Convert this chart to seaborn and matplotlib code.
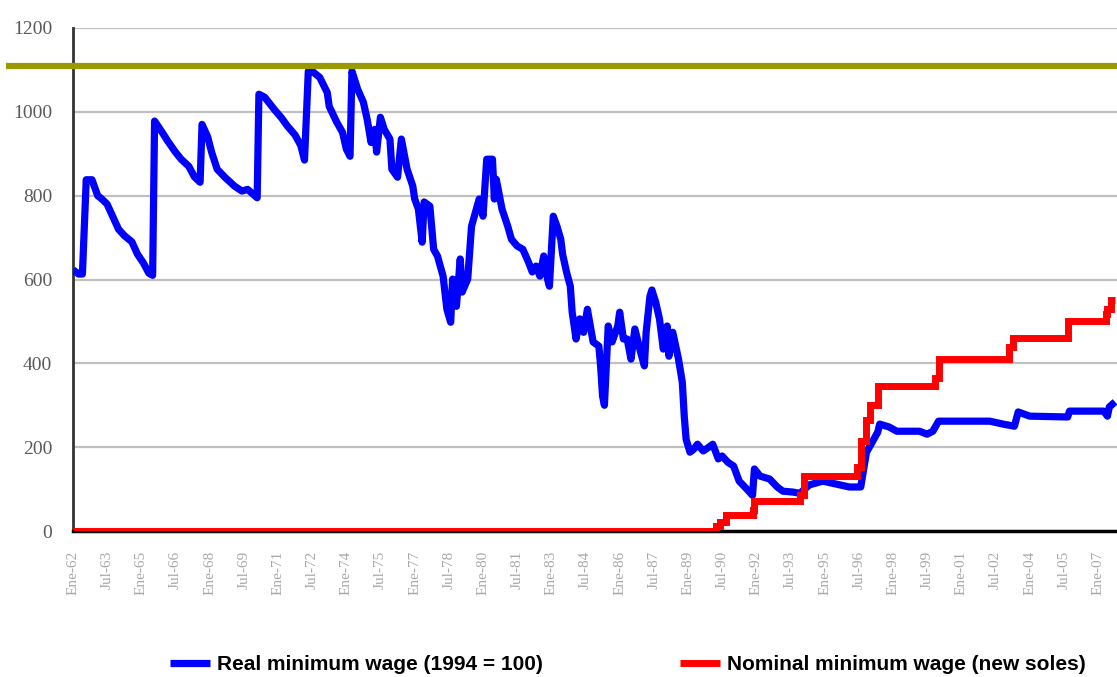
import numpy as np
import pandas as pd
import matplotlib
matplotlib.use("Agg")
import matplotlib.pyplot as plt
import seaborn as sns

# ---------------- data ----------------
real_dates = [
    "1962-01", "1962-04", "1962-06", "1962-08", "1962-11", "1963-02", "1963-04", "1963-07", "1963-10",
    "1964-01", "1964-04", "1964-08", "1964-11", "1965-02", "1965-05", "1965-07", "1965-08", "1965-12",
    "1966-03", "1966-07", "1966-10", "1967-02", "1967-05", "1967-08", "1967-09", "1967-12", "1968-02",
    "1968-05", "1968-09", "1969-02", "1969-06", "1969-09", "1970-02", "1970-03", "1970-06", "1970-11",
    "1971-03", "1971-06", "1971-10", "1972-01", "1972-03", "1972-05", "1972-07", "1972-11", "1973-03",
    "1973-04", "1973-08", "1973-11", "1974-01", "1974-03", "1974-04", "1974-07", "1974-10", "1974-12",
    "1975-02", "1975-04", "1975-05", "1975-07", "1975-09", "1975-12", "1976-01", "1976-04", "1976-06",
    "1976-09", "1976-12", "1977-01", "1977-03", "1977-05", "1977-06", "1977-09", "1977-11", "1978-01",
    "1978-04", "1978-06", "1978-08", "1978-09", "1978-11", "1979-01", "1979-02", "1979-05", "1979-07",
    "1979-09", "1979-11", "1980-01", "1980-03", "1980-06", "1980-07", "1980-08", "1980-11", "1981-02",
    "1981-04", "1981-07", "1981-10", "1982-01", "1982-03", "1982-05", "1982-07", "1982-09", "1982-11",
    "1982-12", "1983-02", "1983-04", "1983-06", "1983-07", "1983-09", "1983-11", "1983-12", "1984-02",
    "1984-04", "1984-06", "1984-08", "1984-11", "1985-02", "1985-03", "1985-04", "1985-05", "1985-07",
    "1985-09", "1985-12", "1986-01", "1986-03", "1986-05", "1986-07", "1986-09", "1986-12", "1987-02",
    "1987-03", "1987-05", "1987-06", "1987-08", "1987-10", "1987-12", "1988-02", "1988-03", "1988-05",
    "1988-08", "1988-10", "1988-11", "1988-12", "1989-02", "1989-04", "1989-06", "1989-09", "1989-12",
    "1990-02", "1990-05", "1990-07", "1990-10", "1991-01", "1991-04", "1991-08", "1991-11", "1991-12",
    "1992-03", "1992-08", "1992-12", "1993-03", "1993-08", "1993-12", "1994-05", "1994-12", "1995-07",
    "1996-02", "1996-08", "1996-11", "1997-02", "1997-05", "1997-06", "1997-11", "1998-03", "1999-03",
    "1999-07", "1999-10", "2000-01", "2002-04", "2002-11", "2003-05", "2003-07", "2004-01", "2005-09",
    "2005-10", "2007-04", "2007-06", "2007-07", "2007-10",
]
real_wage = [
    623, 613, 613, 838, 838, 800, 793, 780, 750,
    720, 705, 690, 660, 640, 615, 610, 978, 951,
    930, 904, 887, 870, 845, 832, 970, 940, 904,
    863, 844, 823, 811, 815, 795, 1042, 1035, 1006,
    985, 966, 945, 920, 885, 1097, 1097, 1082, 1046,
    1013, 975, 951, 911, 894, 1097, 1054, 1023, 982,
    927, 958, 904, 987, 958, 935, 863, 844, 935,
    863, 823, 792, 768, 689, 785, 775, 672, 656,
    608, 529, 498, 601, 536, 649, 570, 601, 727,
    760, 792, 751, 887, 887, 792, 839, 768, 727,
    696, 680, 672, 641, 618, 632, 608, 656, 601,
    584, 751, 727, 696, 660, 618, 584, 522, 458,
    506, 474, 529, 451, 441, 394, 322, 300, 489,
    451, 489, 522, 458, 458, 410, 482, 427, 394,
    474, 560, 575, 546, 506, 434, 489, 417, 474,
    410, 355, 274, 219, 188, 195, 207, 191, 200,
    207, 172, 179, 164, 155, 119, 100, 85, 148,
    131, 124, 105, 95, 93, 90, 110, 119, 112,
    105, 105, 188, 212, 236, 255, 248, 238, 238,
    231, 238, 262, 262, 255, 250, 284, 274, 272,
    286, 286, 274, 296, 308,
]

nominal_dates = [
    "1962-01", "1990-04", "1990-06", "1990-09", "1991-11", "1991-12", "1993-12", "1994-02",
    "1996-06", "1996-08", "1996-11", "1997-01", "1997-05", "1999-11", "2000-01", "2003-02",
    "2003-04", "2005-09", "2007-05", "2007-06", "2007-08", "2007-10",
]
nominal_wage = [
    0, 12, 22, 38, 51, 72, 87, 132,
    153, 215, 265, 300, 345, 366, 410, 440,
    460, 500, 518, 530, 550, 550,
]

tick_labels = [
    "Ene-62", "Jul-63", "Ene-65", "Jul-66", "Ene-68", "Jul-69", "Ene-71", "Jul-72",
    "Ene-74", "Jul-75", "Ene-77", "Jul-78", "Ene-80", "Jul-81", "Ene-83", "Jul-84",
    "Ene-86", "Jul-87", "Ene-89", "Jul-90", "Ene-92", "Jul-93", "Ene-95", "Jul-96",
    "Ene-98", "Jul-99", "Ene-01", "Jul-02", "Ene-04", "Jul-05", "Ene-07",
]
yticks = [0, 200, 400, 600, 800, 1000, 1200]
ref_level = 1110

series_names = ["Real minimum wage (1994 = 100)", "Nominal minimum wage (new soles)"]

# ---------------- frames ----------------
df_real = pd.DataFrame({"date": pd.to_datetime(real_dates), "value": real_wage})
df_nom = pd.DataFrame({"date": pd.to_datetime(nominal_dates), "value": nominal_wage})

month_map = {"Ene": 1, "Jul": 7}
def label_to_date(lbl):
    m, y = lbl.split("-")
    y = int(y)
    y = 1900 + y if y > 30 else 2000 + y
    return pd.Timestamp(year=y, month=month_map[m], day=1)
tick_dates = [label_to_date(l) for l in tick_labels]

# ---------------- plot ----------------
sns.set_style("white")
W, H = 1117, 677
fig = plt.figure(figsize=(W / 100, H / 100), dpi=100)
ax = fig.add_axes([73 / W, 1 - 531 / H, (W - 73) / W, (531 - 28) / H])

for y in yticks[1:]:
    ax.axhline(y, color="#C0C0C0", lw=1.6, zorder=0)

sns.lineplot(data=df_real, x="date", y="value", ax=ax, color="#0000FF", lw=5.2,
             label=series_names[0], zorder=3, solid_capstyle="butt", solid_joinstyle="round")
sns.lineplot(data=df_nom, x="date", y="value", ax=ax, color="#FF0000", lw=5.0,
             drawstyle="steps-post", label=series_names[1], zorder=4,
             solid_capstyle="butt", solid_joinstyle="miter")

ax.axhline(ref_level, xmin=(6 - 73) / (W - 73), xmax=1, color="#999900", lw=4.5,
           clip_on=False, zorder=5, solid_capstyle="butt")

ax.set_xlim(pd.Timestamp("1962-01-01"), pd.Timestamp("2007-11-01"))
ax.set_ylim(0, 1200)
ax.set_xticks(tick_dates)
ax.set_xticklabels(tick_labels, rotation=90, fontsize=11, color="#A8A8A8",
                   family=["Liberation Serif", "DejaVu Serif"])
ax.set_yticks(yticks)
ax.set_yticklabels([str(v) for v in yticks], fontsize=14, color="#5A5A5A",
                   family=["Liberation Serif", "DejaVu Serif"])
ax.tick_params(axis="both", length=0)
ax.tick_params(axis="x", pad=14)
ax.tick_params(axis="y", pad=15)
ax.set_xlabel("")
ax.set_ylabel("")

for s in ["top", "right"]:
    ax.spines[s].set_visible(False)
ax.spines["left"].set_color("#333333")
ax.spines["left"].set_linewidth(2)
ax.spines["bottom"].set_color("#000000")
ax.spines["bottom"].set_linewidth(2.5)
ax.spines["left"].set_zorder(2)
ax.spines["bottom"].set_zorder(2)

leg = ax.legend(loc="center left", bbox_to_anchor=(170 / W, 1 - 665 / H),
                bbox_transform=fig.transFigure, ncol=2, frameon=False,
                borderaxespad=0, borderpad=0, handlelength=1.9, handletextpad=0.35,
                columnspacing=6.6, labelcolor="#000000",
                prop={"family": ["Liberation Sans", "DejaVu Sans"], "weight": "bold", "size": 15})

fig.savefig("out.png", dpi=100)
